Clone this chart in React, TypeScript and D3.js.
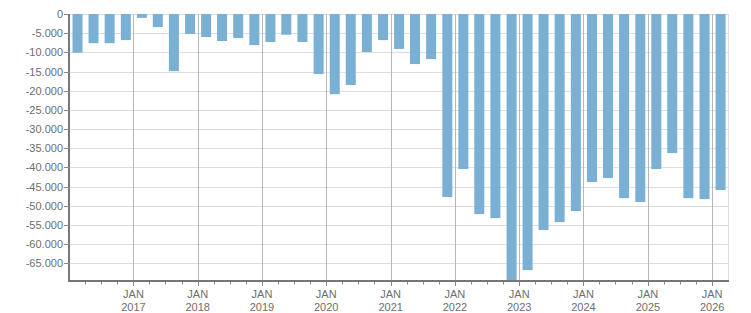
import React from "react";
import * as d3 from "d3";

const quarters: string[] = [
  "2016-01-01","2016-04-01","2016-07-01","2016-10-01",
  "2017-01-01","2017-04-01","2017-07-01","2017-10-01",
  "2018-01-01","2018-04-01","2018-07-01","2018-10-01",
  "2019-01-01","2019-04-01","2019-07-01","2019-10-01",
  "2020-01-01","2020-04-01","2020-07-01","2020-10-01",
  "2021-01-01","2021-04-01","2021-07-01","2021-10-01",
  "2022-01-01","2022-04-01","2022-07-01","2022-10-01",
  "2023-01-01","2023-04-01","2023-07-01","2023-10-01",
  "2024-01-01","2024-04-01","2024-07-01","2024-10-01",
  "2025-01-01","2025-04-01","2025-07-01","2025-10-01",
  "2026-01-01",
];

const values: number[] = [
  -10100, -7600, -7600, -6800,
  -1000, -3400, -14900, -5200,
  -6000, -7050, -6250, -8100,
  -7300, -5400, -7300, -15650,
  -20900, -18500, -9900, -6800,
  -9100, -13050, -11750, -47700,
  -40400, -52150, -53200, -72000,
  -66750, -56300, -54250, -51350,
  -43800, -42750, -48000, -49000,
  -40400, -36250, -48000, -48250,
  -45900,
];

const yTicks: number[] = [0, -5000, -10000, -15000, -20000, -25000, -30000, -35000, -40000, -45000, -50000, -55000, -60000, -65000];
const yearTicks: number[] = [2017, 2018, 2019, 2020, 2021, 2022, 2023, 2024, 2025, 2026];
const monthLabel = "JAN";

const W = 751, H = 313;
const left = 69, right = 728, top = 14, bottom = 281;

const fmt = d3.formatLocale({ decimal: ",", thousands: ".", grouping: [3], currency: ["", ""], minus: "-" }).format(",d");

export default function App() {
  const parse = (s: string) => new Date(s + "T00:00:00");
  const x = d3.scaleTime().domain([new Date(2016, 0, 1), new Date(2026, 3, 1)]).range([left, right]);
  const y = d3.scaleLinear().domain([-69600, 0]).range([bottom, top]);
  const minorTicks = d3.timeMonth.every(3)!.range(new Date(2016, 3, 1), new Date(2026, 3, 1)).filter(d => d.getMonth() !== 0);
  const font = "'Liberation Sans', Arial, sans-serif";
  const textColor = "#6e6e6e";
  const barW = 10;

  return (
    <svg width={W} height={H} style={{ position: "absolute", left: 0, top: 0, background: "#fff" }}>
      <defs>
        <clipPath id="plot"><rect x={left} y={top} width={right - left} height={bottom - top} /></clipPath>
      </defs>
      {yTicks.map(t => (
        <line key={"g" + t} x1={left} x2={right} y1={Math.round(y(t)) + 0.5} y2={Math.round(y(t)) + 0.5} stroke="#dddddd" strokeWidth={1} />
      ))}
      {yearTicks.map(yr => {
        const xx = Math.round(x(new Date(yr, 0, 1))) + 0.5;
        return <line key={"v" + yr} x1={xx} x2={xx} y1={top} y2={bottom} stroke="#b8b8b8" strokeWidth={1} />;
      })}
      <line x1={right + 0.5} x2={right + 0.5} y1={top} y2={bottom} stroke="#dddddd" strokeWidth={1} />
      <g clipPath="url(#plot)">
        {quarters.map((q, i) => {
          const d0 = parse(q);
          const d1 = d3.timeMonth.offset(d0, 3);
          const cx = (x(d0) + x(d1)) / 2 + 0.5;
          const v = values[i];
          return (
            <rect key={q} x={cx - barW / 2} y={y(0)} width={barW} height={y(v) - y(0)} fill="#7ab0d3" />
          );
        })}
      </g>
      {/* y axis */}
      <line x1={left} x2={left} y1={top} y2={bottom} stroke="#777" strokeWidth={2} />
      {yTicks.map(t => (
        <g key={"yt" + t}>
          <line x1={left - 5} x2={left} y1={Math.round(y(t)) + 0.5} y2={Math.round(y(t)) + 0.5} stroke="#888" strokeWidth={1} />
          <text x={63} y={y(t) + 4} textAnchor="end" fontFamily={font} fontSize={11} fill={textColor}>{fmt(t)}</text>
        </g>
      ))}
      {/* x axis */}
      {minorTicks.map(d => {
        const xx = Math.round(x(d)) + 0.5;
        return <line key={"m" + +d} x1={xx} x2={xx} y1={bottom} y2={bottom + 3.5} stroke="#888" strokeWidth={1} />;
      })}
      {yearTicks.map(yr => {
        const xv = x(new Date(yr, 0, 1));
        const xx = Math.round(xv) + 0.5;
        return (
          <g key={"xt" + yr}>
            <line x1={xx} x2={xx} y1={bottom} y2={bottom + 5} stroke="#888" strokeWidth={1} />
            <text x={xv} y={298} textAnchor="middle" fontFamily={font} fontSize={11} fill={textColor}>{monthLabel}</text>
            <text x={xv} y={311} textAnchor="middle" fontFamily={font} fontSize={11} fill={textColor}>{yr}</text>
          </g>
        );
      })}
      <line x1={left - 1} x2={right + 1} y1={bottom} y2={bottom} stroke="#777" strokeWidth={2} />
    </svg>
  );
}
